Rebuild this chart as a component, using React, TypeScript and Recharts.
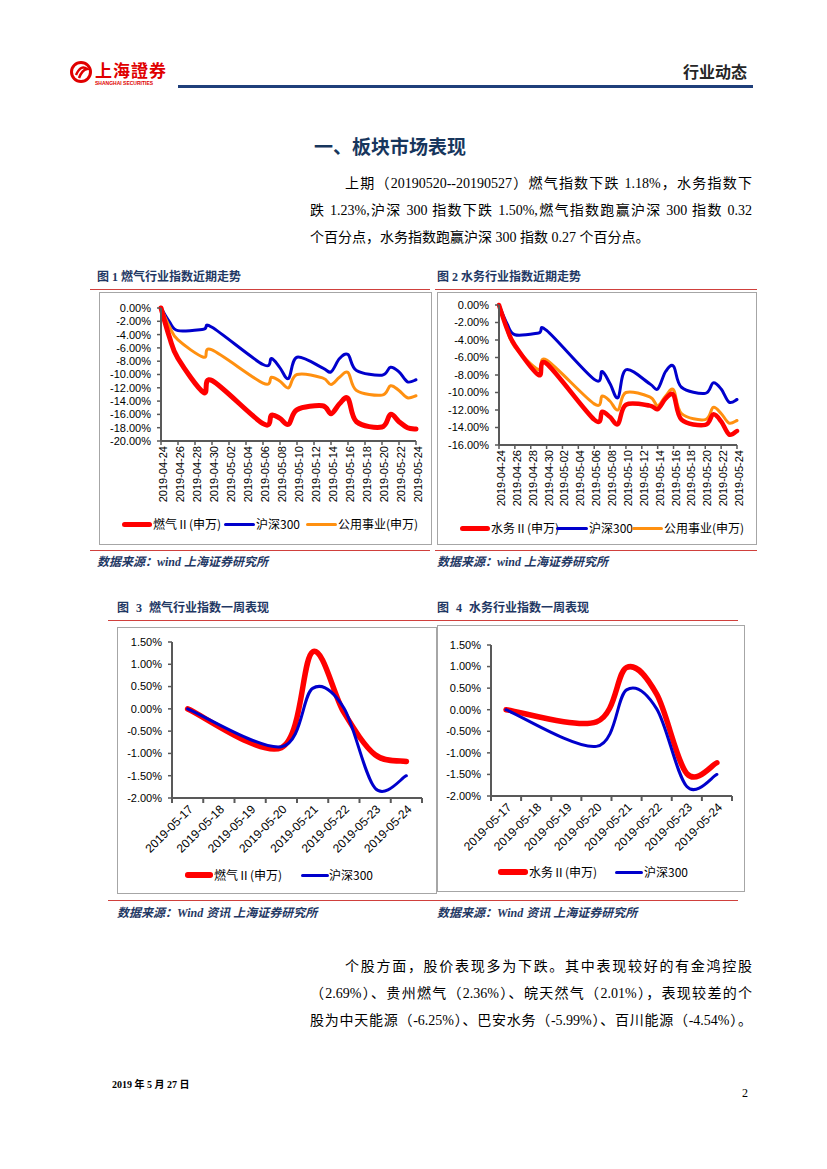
import React from 'react';
import { LineChart, Line, XAxis, YAxis } from 'recharts';

// 近期走势（交易日）
const trendDates = [
  '2019-04-24', '2019-04-25', '2019-04-26', '2019-04-29', '2019-04-30',
  '2019-05-06', '2019-05-07', '2019-05-08', '2019-05-09', '2019-05-10',
  '2019-05-13', '2019-05-14', '2019-05-15', '2019-05-16', '2019-05-17',
  '2019-05-20', '2019-05-21', '2019-05-22', '2019-05-23', '2019-05-24',
];
const gasTrend = [0, -4.4, -7.6, -12.7, -10.9, -17.4, -16.1, -16.6, -17.5, -15.3, -14.7, -15.9, -14.4, -13.6, -17.1, -17.9, -16.0, -17.1, -18.0, -18.2];
const waterTrend = [0, -2.7, -4.6, -8.0, -6.7, -13.1, -12.2, -12.8, -13.6, -11.4, -11.5, -11.9, -10.7, -10.3, -13.1, -13.7, -12.5, -13.3, -14.8, -14.4];
const hs300Trend = [0, -2.1, -3.4, -3.2, -2.9, -8.5, -7.6, -9.0, -10.6, -7.4, -9.0, -9.6, -7.6, -7.0, -9.4, -10.1, -8.9, -9.6, -11.1, -10.8];
const utilTrend = [0, -2.8, -4.8, -7.4, -6.3, -11.3, -10.4, -11.0, -12.0, -10.0, -10.5, -11.5, -10.4, -9.7, -12.4, -13.1, -11.7, -12.4, -13.5, -13.2];
const trendTickLabels = [
  '2019-04-24', '2019-04-26', '2019-04-28', '2019-04-30', '2019-05-02', '2019-05-04',
  '2019-05-06', '2019-05-08', '2019-05-10', '2019-05-12', '2019-05-14', '2019-05-16',
  '2019-05-18', '2019-05-20', '2019-05-22', '2019-05-24',
];
const gasTrendYTicks = [0, -2, -4, -6, -8, -10, -12, -14, -16, -18, -20];
const waterTrendYTicks = [0, -2, -4, -6, -8, -10, -12, -14, -16];

// 一周表现（周末为空）
const weekDates = ['2019-05-17', '2019-05-18', '2019-05-19', '2019-05-20', '2019-05-21', '2019-05-22', '2019-05-23', '2019-05-24'];
const gasWeek = [0, null, null, -0.87, 1.28, -0.08, -1.03, -1.18];
const waterWeek = [0, null, null, -0.28, 0.98, 0.36, -1.48, -1.23];
const hs300Week = [0, null, null, -0.85, 0.46, 0.02, -1.78, -1.5];
const weekYTicks = [1.5, 1, 0.5, 0, -0.5, -1, -1.5, -2];

const RED = '#FF0000';
const BLUE = '#0000CC';
const ORANGE = '#FF9010';
const AXIS = '#595959';
const NAVY = '#1F3864';
const RULE = '#D0403C';
const SANS = '"Liberation Sans", Arial, "Noto Sans CJK SC", sans-serif';
const SERIF = '"Liberation Serif", "Times New Roman", "Noto Sans CJK SC", serif';
const CJK = '"Noto Sans CJK SC", "Liberation Sans", sans-serif';

const dayOf = (d: string) => Math.round((Date.parse(d) - Date.parse(trendDates[0])) / 86400000);
const trendTicks = trendTickLabels.map(dayOf);
const weekTicks = weekDates.flatMap((_, i) => [i - 0.5, i]).concat(weekDates.length - 0.5);

const gasTrendRows = trendDates.map((d, i) => ({ x: dayOf(d), red: gasTrend[i], blue: hs300Trend[i], orange: utilTrend[i] }));
const waterTrendRows = trendDates.map((d, i) => ({ x: dayOf(d), red: waterTrend[i], blue: hs300Trend[i], orange: utilTrend[i] }));
const gasWeekRows = weekDates.map((d, i) => ({ x: i, red: gasWeek[i], blue: hs300Week[i] }));
const waterWeekRows = weekDates.map((d, i) => ({ x: i, red: waterWeek[i], blue: hs300Week[i] }));

// Excel 风格平滑线（Catmull-Rom 贝塞尔）
const excelSmooth = (context: any) => {
  let pts: number[][] = [];
  return {
    areaStart() {},
    areaEnd() {},
    lineStart() { pts = []; },
    point(x: number, y: number) { pts.push([+x, +y]); },
    lineEnd() {
      const n = pts.length;
      if (!n) return;
      context.moveTo(pts[0][0], pts[0][1]);
      for (let i = 0; i < n - 1; i++) {
        const p0 = pts[Math.max(i - 1, 0)];
        const p1 = pts[i];
        const p2 = pts[i + 1];
        const p3 = pts[Math.min(i + 2, n - 1)];
        context.bezierCurveTo(
          p1[0] + (p2[0] - p0[0]) / 6, p1[1] + (p2[1] - p0[1]) / 6,
          p2[0] - (p3[0] - p1[0]) / 6, p2[1] - (p3[1] - p1[1]) / 6,
          p2[0], p2[1],
        );
      }
    },
  };
};

const pct = (v: number) => `${v.toFixed(2)}%`;

const VertTick = (props: any) => {
  const { x, y, payload } = props;
  const label = trendTickLabels[trendTicks.indexOf(payload.value)];
  return (
    <g transform={`translate(${x},${y})`}>
      <line x1={0} y1={0} x2={0} y2={4} stroke={AXIS} strokeWidth={1.5} />
      <text transform="rotate(-90)" x={-5} y={2} dy="0.36em" textAnchor="end" fontSize={11} fill="#000" fontFamily={SANS}>
        {label}
      </text>
    </g>
  );
};

const WeekTick = (props: any) => {
  const { x, y, payload } = props;
  const v = payload.value;
  if (!Number.isInteger(v)) {
    return <line x1={x} y1={y} x2={x} y2={y + 5} stroke={AXIS} strokeWidth={2} />;
  }
  return (
    <text transform={`translate(${x + 3},${y + 9}) rotate(-45)`} dy="0.36em" textAnchor="end" fontSize={12} fill="#000" fontFamily={SANS}>
      {weekDates[v]}
    </text>
  );
};

const yAxisCommon = {
  type: 'number' as const,
  tick: { fontSize: 11, fill: '#000', fontFamily: SANS },
  tickFormatter: pct,
  axisLine: { stroke: AXIS, strokeWidth: 2 },
  tickLine: { stroke: AXIS, strokeWidth: 1.5 },
  tickSize: 4,
  tickMargin: 6,
  interval: 0 as const,
};

const xAxisCommon = {
  dataKey: 'x',
  type: 'number' as const,
  axisLine: { stroke: AXIS, strokeWidth: 2 },
  tickLine: false,
  tickSize: 0,
  tickMargin: 0,
  interval: 0 as const,
  allowDecimals: true,
};

const Box = ({ left, top, width, height }: any) => (
  <div style={{ position: 'absolute', left, top, width, height, border: '1px solid #A6A6A6', boxSizing: 'border-box' }} />
);

const Rule = ({ left, top, width }: any) => (
  <div style={{ position: 'absolute', left, top, width, height: 1.5, background: RULE }} />
);

const Txt = ({ left, top, children, style }: any) => (
  <div style={{ position: 'absolute', left, top, whiteSpace: 'nowrap', ...style }}>{children}</div>
);

const LegendKey = ({ left, top, width, color, thick, label, labelLeft }: any) => (
  <>
    <div style={{ position: 'absolute', left, top: top - thick / 2, width, height: thick, background: color, borderRadius: thick / 2 }} />
    <div style={{ position: 'absolute', left: labelLeft, top: top - 9, height: 18, lineHeight: '18px', fontSize: 12, fontFamily: CJK, color: '#000', whiteSpace: 'nowrap' }}>
      {label}
    </div>
  </>
);

const ParaLine = ({ left, right, center, text, justify }: any) => (
  <div
    style={{
      position: 'absolute', left, width: right - left, top: center - 10, height: 20, lineHeight: '20px',
      fontSize: 14, fontFamily: SERIF, color: '#000', textAlign: justify ? 'justify' : 'left',
      textAlignLast: justify ? 'justify' : 'left', whiteSpace: 'nowrap', overflow: 'visible',
    } as any}
  >
    {text}
  </div>
);

const TrendChart = ({ rows, yTicks, yMin, redWidth, left, top, width, height, margin, yWidth, xHeight }: any) => (
  <div style={{ position: 'absolute', left, top }}>
    <LineChart width={width} height={height} data={rows} margin={margin}>
      <XAxis {...xAxisCommon} domain={[0, 30]} ticks={trendTicks} tick={<VertTick />} height={xHeight} />
      <YAxis {...yAxisCommon} domain={[yMin, 0]} ticks={yTicks} width={yWidth} />
      <Line dataKey="blue" type={excelSmooth as any} stroke={BLUE} strokeWidth={3} dot={false} activeDot={false} isAnimationActive={false} strokeLinejoin="round" strokeLinecap="round" />
      <Line dataKey="orange" type={excelSmooth as any} stroke={ORANGE} strokeWidth={3} dot={false} activeDot={false} isAnimationActive={false} strokeLinejoin="round" strokeLinecap="round" />
      <Line dataKey="red" type={excelSmooth as any} stroke={RED} strokeWidth={redWidth} dot={false} activeDot={false} isAnimationActive={false} strokeLinejoin="round" strokeLinecap="round" />
    </LineChart>
  </div>
);

const WeekChart = ({ rows, left, top, width, height, margin, yWidth, xHeight }: any) => (
  <div style={{ position: 'absolute', left, top }}>
    <LineChart width={width} height={height} data={rows} margin={margin}>
      <XAxis {...xAxisCommon} domain={[-0.5, weekDates.length - 0.5]} ticks={weekTicks} tick={<WeekTick />} height={xHeight} />
      <YAxis {...yAxisCommon} domain={[-2, 1.5]} ticks={weekYTicks} width={yWidth} />
      <Line dataKey="red" type={excelSmooth as any} connectNulls stroke={RED} strokeWidth={5.5} dot={false} activeDot={false} isAnimationActive={false} strokeLinejoin="round" strokeLinecap="round" />
      <Line dataKey="blue" type={excelSmooth as any} connectNulls stroke={BLUE} strokeWidth={3} dot={false} activeDot={false} isAnimationActive={false} strokeLinejoin="round" strokeLinecap="round" />
    </LineChart>
  </div>
);

const captionStyle = { fontSize: 12, fontWeight: 700, color: NAVY, fontFamily: SERIF, height: 18, lineHeight: '18px' };
const sourceStyle = { fontSize: 12, fontWeight: 700, fontStyle: 'italic', color: NAVY, fontFamily: SERIF, height: 18, lineHeight: '18px' };

export default function App() {
  return (
    <div style={{ position: 'absolute', left: 0, top: 0, width: 827, height: 1169, background: '#fff', overflow: 'hidden' }}>
      {/* 页眉 */}
      <svg style={{ position: 'absolute', left: 68, top: 58 }} width={110} height={30}>
        <circle cx={13} cy={14} r={9.5} fill="none" stroke="#E00000" strokeWidth={3} />
        <path d="M8 17 Q13 6 19 11 Q14 12 11 20" fill="none" stroke="#E00000" strokeWidth={2.5} />
        <text x={27} y={19} fontSize={17} fontWeight={700} fill="#E00000" fontFamily={CJK} letterSpacing={1}>上海證券</text>
        <text x={27} y={27} fontSize={5} fontWeight={700} fill="#E00000" fontFamily={SANS}>SHANGHAI SECURITIES</text>
      </svg>
      <div style={{ position: 'absolute', left: 178, top: 85, width: 575, height: 2.5, background: '#1F3F7A' }} />
      <Txt left={683} top={60} style={{ fontSize: 16, fontWeight: 700, color: '#262626', fontFamily: CJK, height: 22, lineHeight: '22px' }}>行业动态</Txt>

      {/* 标题与正文 */}
      <Txt left={314} top={133} style={{ fontSize: 19, fontWeight: 700, color: '#17365D', fontFamily: CJK, height: 26, lineHeight: '26px' }}>一、板块市场表现</Txt>
      <ParaLine left={345} right={752} center={184} justify text="上期（20190520--20190527）燃气指数下跌 1.18%，水务指数下" />
      <ParaLine left={310} right={752} center={211} justify text="跌 1.23%,沪深 300 指数下跌 1.50%,燃气指数跑赢沪深 300 指数 0.32" />
      <ParaLine left={310} right={752} center={238} text="个百分点，水务指数跑赢沪深 300 指数 0.27 个百分点。" />

      {/* 图1 / 图2 */}
      <Txt left={97} top={268} style={captionStyle}>图 1 燃气行业指数近期走势</Txt>
      <Txt left={437} top={268} style={captionStyle}>图 2 水务行业指数近期走势</Txt>
      <Rule left={90} top={288.5} width={340} />
      <Rule left={435} top={288.5} width={322} />
      <Box left={99} top={292} width={333} height={253} />
      <Box left={437} top={292} width={320} height={253} />
      <TrendChart rows={gasTrendRows} yTicks={gasTrendYTicks} yMin={-20} redWidth={5}
        left={99} top={292} width={332} height={253} margin={{ top: 16, right: 15, left: 1, bottom: 0 }} yWidth={61} xHeight={104} />
      <TrendChart rows={waterTrendRows} yTicks={waterTrendYTicks} yMin={-16} redWidth={4.5}
        left={437} top={292} width={320} height={253} margin={{ top: 13, right: 20, left: 1, bottom: 0 }} yWidth={61} xHeight={100} />
      <LegendKey left={122} top={524} width={30} color={RED} thick={5} label="燃气Ⅱ(申万)" labelLeft={153} />
      <LegendKey left={224} top={524} width={31} color={BLUE} thick={3} label="沪深300" labelLeft={256} />
      <LegendKey left={306} top={524} width={31} color={ORANGE} thick={3} label="公用事业(申万)" labelLeft={338} />
      <LegendKey left={460} top={528} width={30} color={RED} thick={5} label="水务Ⅱ(申万)" labelLeft={491} />
      <LegendKey left={556} top={528} width={32} color={BLUE} thick={3} label="沪深300" labelLeft={589} />
      <LegendKey left={632} top={528} width={31} color={ORANGE} thick={3} label="公用事业(申万)" labelLeft={664} />
      <Rule left={90} top={549.5} width={340} />
      <Rule left={435} top={549.5} width={322} />
      <Txt left={97} top={553} style={sourceStyle}>数据来源：wind 上海证券研究所</Txt>
      <Txt left={437} top={553} style={sourceStyle}>数据来源：wind 上海证券研究所</Txt>

      {/* 图3 / 图4 */}
      <Txt left={117} top={599} style={{ ...captionStyle, wordSpacing: 4 }}>图 3 燃气行业指数一周表现</Txt>
      <Txt left={437} top={599} style={{ ...captionStyle, wordSpacing: 4 }}>图 4 水务行业指数一周表现</Txt>
      <Rule left={108} top={619.5} width={322} />
      <Rule left={430} top={619.5} width={308} />
      <Box left={117} top={627} width={320} height={267} />
      <Box left={437} top={625} width={308} height={267} />
      <WeekChart rows={gasWeekRows} left={117} top={627} width={319} height={267}
        margin={{ top: 15, right: 14, left: 1, bottom: 0 }} yWidth={54} xHeight={96} />
      <WeekChart rows={waterWeekRows} left={437} top={625} width={308} height={267}
        margin={{ top: 20, right: 13, left: 1, bottom: 0 }} yWidth={53} xHeight={96} />
      <LegendKey left={185} top={875} width={28} color={RED} thick={5.5} label="燃气Ⅱ(申万)" labelLeft={214} />
      <LegendKey left={301} top={875} width={28} color={BLUE} thick={3} label="沪深300" labelLeft={329} />
      <LegendKey left={498} top={872} width={30} color={RED} thick={5.5} label="水务Ⅱ(申万)" labelLeft={529} />
      <LegendKey left={615} top={872} width={28} color={BLUE} thick={3} label="沪深300" labelLeft={644} />
      <Rule left={108} top={899.5} width={322} />
      <Rule left={430} top={899.5} width={308} />
      <Txt left={117} top={904} style={sourceStyle}>数据来源：Wind 资讯 上海证券研究所</Txt>
      <Txt left={437} top={904} style={sourceStyle}>数据来源：Wind 资讯 上海证券研究所</Txt>

      {/* 个股 */}
      <ParaLine left={345} right={752} center={967} justify text="个股方面，股价表现多为下跌。其中表现较好的有金鸿控股" />
      <ParaLine left={310} right={752} center={994} justify text="（2.69%）、贵州燃气（2.36%）、皖天然气（2.01%），表现较差的个" />
      <ParaLine left={310} right={752} center={1021} justify text="股为中天能源（-6.25%）、巴安水务（-5.99%）、百川能源（-4.54%）。" />

      {/* 页脚 */}
      <Txt left={112} top={1078} style={{ fontSize: 10, fontWeight: 700, fontFamily: SERIF, color: '#000', height: 14, lineHeight: '14px' }}>2019 年 5 月 27 日</Txt>
      <Txt left={742} top={1085} style={{ fontSize: 12, fontFamily: SERIF, color: '#000', height: 16, lineHeight: '16px' }}>2</Txt>
    </div>
  );
}
